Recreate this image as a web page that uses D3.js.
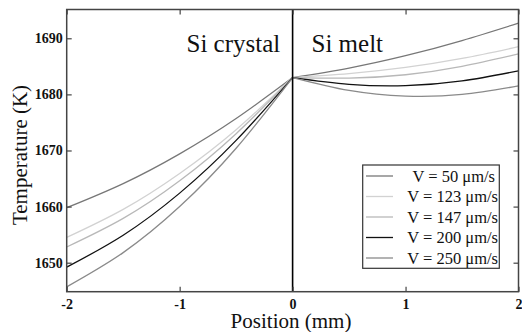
<!DOCTYPE html>
<html>
<head>
<meta charset="utf-8">
<script src="https://cdn.jsdelivr.net/npm/d3@7"></script>
<style>
	body { margin: 0; background: #fff; }
	svg { display: block; font-family: "Liberation Serif", "Times New Roman", serif; }
</style>
</head>
<body>
<svg id="chart" width="522" height="332"></svg>
<script>
// positions (mm) on each side of the interface
var xCrystal = [-2, -1.5, -1, -0.5, 0];
var xMelt = [0, 0.5, 1, 1.5, 2];

var speeds = ["V = 50 \u03bcm/s", "V = 123 \u03bcm/s", "V = 147 \u03bcm/s", "V = 200 \u03bcm/s", "V = 250 \u03bcm/s"];

// temperature (K)
var tCrystal = [
	[1659.8, 1664.1, 1669.4, 1675.7, 1683],
	[1654.5, 1659.5, 1665.9, 1673.7, 1683],
	[1652.8, 1657.9, 1664.6, 1673.0, 1683],
	[1649.2, 1654.9, 1662.4, 1671.8, 1683],
	[1645.7, 1651.8, 1660.0, 1670.4, 1683]
];
var tMelt = [
	[1683, 1684.7, 1686.9, 1689.6, 1692.7],
	[1683, 1683.7, 1684.8, 1686.4, 1688.5],
	[1683, 1682.9, 1683.5, 1685.0, 1687.2],
	[1683, 1681.8, 1681.55, 1682.4, 1684.2],
	[1683, 1680.7, 1679.7, 1680.0, 1681.5]
];

var xTicks = [-2, -1, 0, 1, 2];
var yTicks = [1650, 1660, 1670, 1680, 1690];

var colors = ["#777777", "#d2d2d2", "#b8b8b8", "#111111", "#8a8a8a"];

drawChart();

function drawChart(){
	var svg = d3.select("#chart");
	var pLeft = 66.7, pRight = 518.5, pTop = 9.5, pBottom = 291.7;

	var x = d3.scaleLinear().domain([-2, 2]).range([pLeft, pRight]);
	var y = d3.scaleLinear().domain([1644.83, 1695.13]).range([pBottom, pTop]);

	// curves
	var line = d3.line().x(function(d){ return x(d[0]); }).y(function(d){ return y(d[1]); }).curve(d3.curveNatural);
	var curves = svg.append("g").attr("fill", "none").attr("stroke-width", 1.3);
	for (var i = 0; i < speeds.length; i++) {
		curves.append("path")
			.attr("d", line(d3.zip(xCrystal, tCrystal[i])))
			.attr("stroke", colors[i]);
		curves.append("path")
			.attr("d", line(d3.zip(xMelt, tMelt[i])))
			.attr("stroke", colors[i]);
	}

	// interface line
	svg.append("line")
		.attr("x1", x(0)).attr("x2", x(0))
		.attr("y1", pTop).attr("y2", pBottom)
		.attr("stroke", "#000").attr("stroke-width", 1.6);

	// axes with inward ticks on all sides
	var axisStyle = function(g){
		g.select(".domain").remove();
		g.selectAll(".tick line").attr("stroke", "#444").attr("stroke-width", 1.2);
		g.selectAll(".tick text").attr("fill", "#111").attr("font-weight", "bold")
			.attr("font-size", 14).attr("font-family", "Liberation Serif");
	};
	var plain = function(d){ return String(d); };

	svg.append("g").attr("transform", "translate(0," + pBottom + ")")
		.call(d3.axisBottom(x).tickValues(xTicks).tickFormat(plain).tickSize(-5).tickPadding(7))
		.call(axisStyle);
	svg.append("g").attr("transform", "translate(0," + pTop + ")")
		.call(d3.axisTop(x).tickValues(xTicks).tickFormat("").tickSize(-5))
		.call(axisStyle);
	svg.append("g").attr("transform", "translate(" + pLeft + ",0)")
		.call(d3.axisLeft(y).tickValues(yTicks).tickFormat(plain).tickSize(-5).tickPadding(4))
		.call(axisStyle);
	svg.append("g").attr("transform", "translate(" + pRight + ",0)")
		.call(d3.axisRight(y).tickValues(yTicks).tickFormat("").tickSize(-5))
		.call(axisStyle);

	svg.append("rect")
		.attr("x", pLeft).attr("y", pTop)
		.attr("width", pRight - pLeft).attr("height", pBottom - pTop)
		.attr("fill", "none").attr("stroke", "#444").attr("stroke-width", 1.5);

	// region labels
	svg.append("text").attr("x", 186.5).attr("y", 52).attr("font-size", 25).attr("fill", "#111").text("Si crystal");
	svg.append("text").attr("x", 311.5).attr("y", 52).attr("font-size", 25).attr("fill", "#111").text("Si melt");

	// axis titles
	svg.append("text")
		.attr("x", 291).attr("y", 328)
		.attr("text-anchor", "middle").attr("font-size", 21).attr("fill", "#111")
		.text("Position (mm)");
	svg.append("text")
		.attr("transform", "translate(27,155) rotate(-90)")
		.attr("text-anchor", "middle").attr("font-size", 21).attr("fill", "#111")
		.text("Temperature (K)");

	// legend
	var legend = svg.append("g");
	legend.append("rect")
		.attr("x", 362.7).attr("y", 165)
		.attr("width", 136.6).attr("height", 103.3)
		.attr("fill", "#fff").attr("stroke", "#333").attr("stroke-width", 1.2);
	for (var j = 0; j < speeds.length; j++) {
		var ly = 176 + j * 20.5;
		legend.append("line")
			.attr("x1", 366).attr("x2", 393)
			.attr("y1", ly).attr("y2", ly)
			.attr("stroke", colors[j]).attr("stroke-width", 1.3);
		legend.append("text")
			.attr("x", j == 0 ? 495 : 498).attr("y", ly + 5.5)
			.attr("text-anchor", "end").attr("font-size", 16.5).attr("fill", "#111")
			.text(speeds[j]);
	}
}
</script>
</body>
</html>
